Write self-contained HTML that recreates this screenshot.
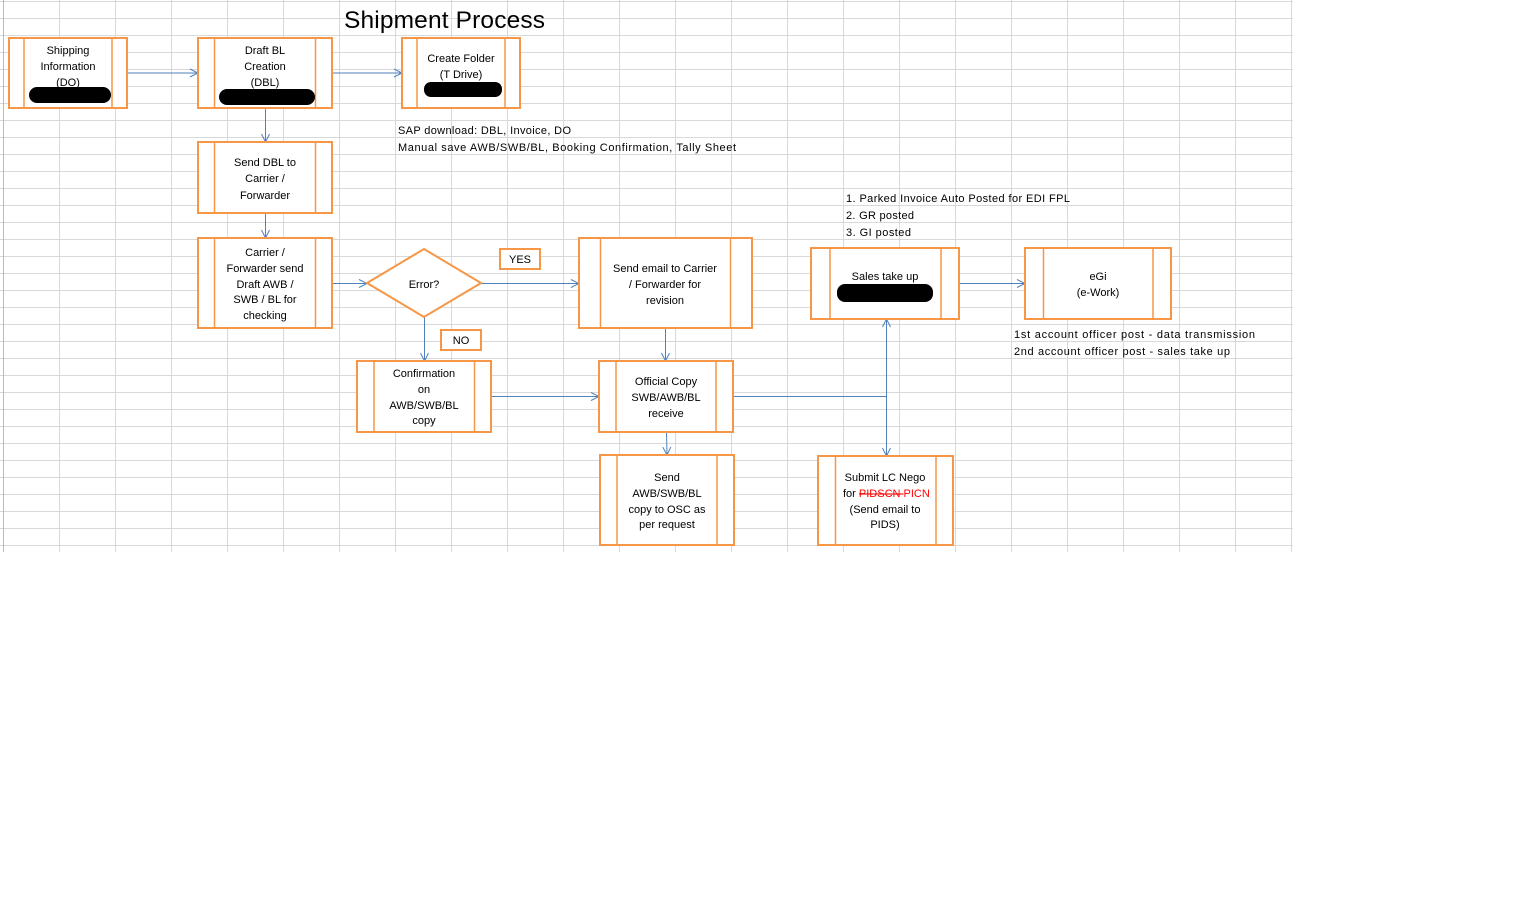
<!DOCTYPE html>
<html><head><meta charset="utf-8"><style>
html,body{margin:0;padding:0;background:#fff;}
svg{display:block;}
text{font-family:"Liberation Sans",sans-serif;font-size:11px;fill:#000;}
.b{fill:#fff;stroke:#F79646;stroke-width:2;}
.i{stroke:#F79646;stroke-width:1.5;}
.c{stroke:#4F81BD;stroke-width:1;fill:none;}
</style></head><body>
<svg width="1529" height="903" viewBox="0 0 1529 903" xmlns="http://www.w3.org/2000/svg">
<defs>
<pattern id="g" x="3" y="1" width="56" height="17" patternUnits="userSpaceOnUse">
<path d="M0.5 0V17M0 0.5H56" stroke="#d9d9d9" stroke-width="1" fill="none"/>
</pattern>
<marker id="a" markerWidth="10" markerHeight="10" refX="9" refY="5" orient="auto" markerUnits="userSpaceOnUse">
<path d="M1 1L9 5L1 9" fill="none" stroke="#4F81BD" stroke-width="1"/>
</marker>
</defs>
<rect x="0" y="0" width="1293" height="552" fill="url(#g)"/>
<line x1="3.5" y1="0" x2="3.5" y2="552" stroke="#bbb"/>

<text x="344" y="28" style="font-size:24.5px" textLength="201">Shipment Process</text>

<line class="c" x1="127" y1="73" x2="198" y2="73" marker-end="url(#a)"/>
<line class="c" x1="332" y1="73" x2="402" y2="73" marker-end="url(#a)"/>
<line class="c" x1="265.5" y1="108" x2="265.5" y2="142" marker-end="url(#a)"/>
<line class="c" x1="265.5" y1="213" x2="265.5" y2="238" marker-end="url(#a)"/>
<line class="c" x1="332" y1="283.5" x2="367" y2="283.5" marker-end="url(#a)"/>
<line class="c" x1="481" y1="283.5" x2="579" y2="283.5" marker-end="url(#a)"/>
<line class="c" x1="424.5" y1="317" x2="424.5" y2="361" marker-end="url(#a)"/>
<line class="c" x1="665.5" y1="328" x2="665.5" y2="361" marker-end="url(#a)"/>
<line class="c" x1="491" y1="396.5" x2="599" y2="396.5" marker-end="url(#a)"/>
<line class="c" x1="666.5" y1="432" x2="667" y2="455" marker-end="url(#a)"/>
<line class="c" x1="733" y1="396.5" x2="886.5" y2="396.5"/>
<line class="c" x1="886.5" y1="396.5" x2="886.5" y2="319" marker-end="url(#a)"/>
<line class="c" x1="886.5" y1="396.5" x2="886.5" y2="456" marker-end="url(#a)"/>
<line class="c" x1="959" y1="283.5" x2="1025" y2="283.5" marker-end="url(#a)"/>

<rect class="b" x="9" y="38" width="118" height="70"/><line class="i" x1="24" y1="38" x2="24" y2="108"/><line class="i" x1="112" y1="38" x2="112" y2="108"/>
<text text-anchor="middle" x="68" y="54">Shipping</text><text text-anchor="middle" x="68" y="70">Information</text><text text-anchor="middle" x="68" y="86">(DO)</text>
<rect x="29" y="87" width="82" height="16" rx="8" fill="#000"/>

<rect class="b" x="198" y="38" width="134" height="70"/><line class="i" x1="214.5" y1="38" x2="214.5" y2="108"/><line class="i" x1="315.5" y1="38" x2="315.5" y2="108"/>
<text text-anchor="middle" x="265" y="54">Draft BL</text><text text-anchor="middle" x="265" y="70">Creation</text><text text-anchor="middle" x="265" y="86">(DBL)</text>
<rect x="219" y="89" width="96" height="16" rx="8" fill="#000"/>

<rect class="b" x="402" y="38" width="118" height="70"/><line class="i" x1="417" y1="38" x2="417" y2="108"/><line class="i" x1="505" y1="38" x2="505" y2="108"/>
<text text-anchor="middle" x="461" y="62">Create Folder</text><text text-anchor="middle" x="461" y="78">(T Drive)</text>
<rect x="424" y="82" width="78" height="15" rx="7" fill="#000"/>

<text x="398" y="134" textLength="173">SAP download: DBL, Invoice, DO</text>
<text x="398" y="151" textLength="338">Manual save AWB/SWB/BL, Booking Confirmation, Tally Sheet</text>

<rect class="b" x="198" y="142" width="134" height="71"/><line class="i" x1="214.5" y1="142" x2="214.5" y2="213"/><line class="i" x1="315.5" y1="142" x2="315.5" y2="213"/>
<text text-anchor="middle" x="265" y="166">Send DBL to</text><text text-anchor="middle" x="265" y="182">Carrier /</text><text text-anchor="middle" x="265" y="199">Forwarder</text>

<rect class="b" x="198" y="238" width="134" height="90"/><line class="i" x1="214.5" y1="238" x2="214.5" y2="328"/><line class="i" x1="315.5" y1="238" x2="315.5" y2="328"/>
<text text-anchor="middle" x="265" y="256">Carrier /</text><text text-anchor="middle" x="265" y="272">Forwarder send</text><text text-anchor="middle" x="265" y="288">Draft  AWB /</text><text text-anchor="middle" x="265" y="303">SWB / BL for</text><text text-anchor="middle" x="265" y="319">checking</text>

<polygon class="b" points="424,249 481,283 424,317 367,283"/>
<text text-anchor="middle" x="424" y="288">Error?</text>

<rect class="b" x="500" y="249" width="40" height="20"/><text text-anchor="middle" x="520" y="263">YES</text>
<rect class="b" x="441" y="330" width="40" height="20"/><text text-anchor="middle" x="461" y="344">NO</text>

<rect class="b" x="579" y="238" width="173" height="90"/><line class="i" x1="600.5" y1="238" x2="600.5" y2="328"/><line class="i" x1="730.5" y1="238" x2="730.5" y2="328"/>
<text text-anchor="middle" x="665" y="272">Send email to Carrier</text><text text-anchor="middle" x="665" y="288">/ Forwarder for</text><text text-anchor="middle" x="665" y="304">revision</text>

<text x="846" y="202" textLength="224">1. Parked Invoice Auto Posted for EDI FPL</text>
<text x="846" y="219" textLength="68">2. GR posted</text>
<text x="846" y="236" textLength="65">3. GI posted</text>

<rect class="b" x="811" y="248" width="148" height="71"/><line class="i" x1="830" y1="248" x2="830" y2="319"/><line class="i" x1="941" y1="248" x2="941" y2="319"/>
<text text-anchor="middle" x="885" y="280">Sales take up</text>
<rect x="837" y="284" width="96" height="18" rx="8" fill="#000"/>

<rect class="b" x="1025" y="248" width="146" height="71"/><line class="i" x1="1043.5" y1="248" x2="1043.5" y2="319"/><line class="i" x1="1153" y1="248" x2="1153" y2="319"/>
<text text-anchor="middle" x="1098" y="280">eGi</text><text text-anchor="middle" x="1098" y="296">(e-Work)</text>

<text x="1014" y="338" textLength="241">1st account officer post - data transmission</text>
<text x="1014" y="355" textLength="216">2nd account officer post - sales take up</text>

<rect class="b" x="357" y="361" width="134" height="71"/><line class="i" x1="374" y1="361" x2="374" y2="432"/><line class="i" x1="474.5" y1="361" x2="474.5" y2="432"/>
<text text-anchor="middle" x="424" y="377">Confirmation</text><text text-anchor="middle" x="424" y="393">on</text><text text-anchor="middle" x="424" y="409">AWB/SWB/BL</text><text text-anchor="middle" x="424" y="424">copy</text>

<rect class="b" x="599" y="361" width="134" height="71"/><line class="i" x1="616" y1="361" x2="616" y2="432"/><line class="i" x1="716" y1="361" x2="716" y2="432"/>
<text text-anchor="middle" x="666" y="385">Official Copy</text><text text-anchor="middle" x="666" y="401">SWB/AWB/BL</text><text text-anchor="middle" x="666" y="417">receive</text>

<rect class="b" x="600" y="455" width="134" height="90"/><line class="i" x1="617" y1="455" x2="617" y2="545"/><line class="i" x1="717" y1="455" x2="717" y2="545"/>
<text text-anchor="middle" x="667" y="481">Send</text><text text-anchor="middle" x="667" y="497">AWB/SWB/BL</text><text text-anchor="middle" x="667" y="513">copy to OSC as</text><text text-anchor="middle" x="667" y="528">per request</text>

<rect class="b" x="818" y="456" width="135" height="89"/><line class="i" x1="835.5" y1="456" x2="835.5" y2="545"/><line class="i" x1="936" y1="456" x2="936" y2="545"/>
<text text-anchor="middle" x="885" y="481">Submit LC Nego</text>
<text x="843" y="497">for <tspan style="fill:#ff0000;text-decoration:line-through">PIDSCN </tspan><tspan style="fill:#ff0000">PICN</tspan></text>
<text text-anchor="middle" x="885" y="513">(Send email to</text><text text-anchor="middle" x="885" y="528">PIDS)</text>
</svg>
</body></html>
